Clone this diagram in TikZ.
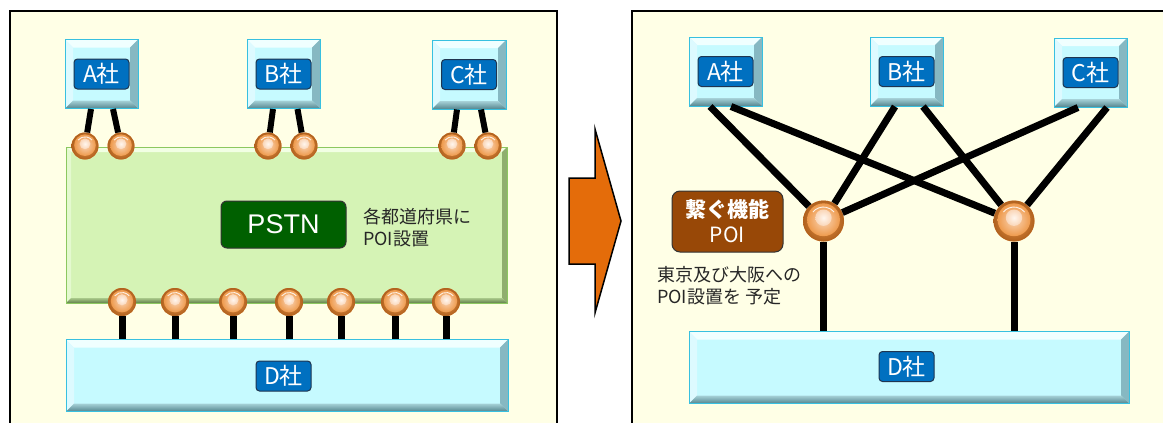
\documentclass[tikz,border=0pt]{standalone}
\usepackage{fontspec}
\setmainfont{Noto Sans CJK JP}
\newfontfamily\arialf{Liberation Sans}
\usetikzlibrary{calc}
\definecolor{panelbg}{HTML}{FFFFE6}
\definecolor{boxface}{HTML}{C6FAFF}
\definecolor{boxedge}{HTML}{38C0E0}
\definecolor{bevtop}{HTML}{F0FFFF}
\definecolor{bevleft}{HTML}{DDFAFF}
\definecolor{bevright}{HTML}{86B8C2}
\definecolor{bevbotA}{HTML}{A6D2D8}
\definecolor{bevbotB}{HTML}{55858E}
\definecolor{lblblue}{HTML}{0070C0}
\definecolor{lbledge}{HTML}{1F3550}
\definecolor{gface}{HTML}{D5F3B5}
\definecolor{gedge}{HTML}{8CC860}
\definecolor{gtop}{HTML}{F2FFE4}
\definecolor{gleft}{HTML}{E4F9CF}
\definecolor{gright}{HTML}{8FAE6E}
\definecolor{gbotA}{HTML}{A9C98A}
\definecolor{gbotB}{HTML}{62804A}
\definecolor{pstngreen}{HTML}{006000}
\definecolor{poibrown}{HTML}{984807}
\definecolor{arroworange}{HTML}{E46C0A}
\definecolor{ballhi}{HTML}{FFF6EE}
\definecolor{ballin}{HTML}{FAD6B8}
\definecolor{ballmid}{HTML}{EE9A4C}
\definecolor{balldark}{HTML}{B0611E}
\newcommand\bevelpic[6]{%
  \path (path picture bounding box.north west) coordinate (bNW)
        (path picture bounding box.north east) coordinate (bNE)
        (path picture bounding box.south west) coordinate (bSW)
        (path picture bounding box.south east) coordinate (bSE);
  \fill[#2] (bNW) -- (bNE) -- ([shift={(-#1,-#1)}]bNE) -- ([shift={(#1,-#1)}]bNW) -- cycle;
  \fill[#3] (bNW) -- (bSW) -- ([shift={(#1,#1)}]bSW) -- ([shift={(#1,-#1)}]bNW) -- cycle;
  \fill[#4] (bNE) -- (bSE) -- ([shift={(-#1,#1)}]bSE) -- ([shift={(-#1,-#1)}]bNE) -- cycle;
  \shade[top color=#5, bottom color=#6] (bSW) -- (bSE) -- ([shift={(-#1,#1)}]bSE) -- ([shift={(#1,#1)}]bSW) -- cycle;
}
\tikzset{
  cbox/.style={rectangle, draw=boxedge, line width=1pt, fill=boxface, inner sep=0pt,
    minimum width=#1, minimum height=69pt,
    path picture={\bevelpic{8pt}{bevtop}{bevleft}{bevright}{bevbotA}{bevbotB}}},
  dbox/.style={rectangle, draw=boxedge, line width=1pt, fill=boxface, inner sep=0pt,
    minimum width=#1, minimum height=72pt,
    path picture={\bevelpic{8pt}{bevtop}{bevleft}{bevright}{bevbotA}{bevbotB}}},
  gbox/.style={rectangle, draw=gedge, line width=1pt, fill=gface, inner sep=0pt,
    minimum width=441pt, minimum height=156pt,
    path picture={\bevelpic{5pt}{gtop}{gleft}{gright}{gbotA}{gbotB}}},
  lbl/.style={rectangle, rounded corners=3.5pt, draw=lbledge, line width=1pt, fill=lblblue,
    text=white, minimum width=55pt, minimum height=30pt, inner sep=0pt,
    font=\fontsize{23pt}{25pt}\selectfont},
  pstnbox/.style={rectangle, rounded corners=6pt, draw=black!80, line width=1pt, fill=pstngreen,
    text=white, minimum width=125pt, minimum height=47pt, inner sep=0pt,
    font=\arialf\fontsize{27pt}{30pt}\selectfont},
  poibox/.style={rectangle, rounded corners=8pt, draw=black!80, line width=1pt, fill=poibrown,
    text=white, minimum width=111pt, minimum height=61pt, inner sep=0pt, align=center,
    font=\fontsize{21pt}{25pt}\selectfont},
  note/.style={anchor=west, align=left, inner sep=0pt, text=black!85,
    font=\fontsize{18pt}{22pt}\selectfont},
  ball/.style={circle, inner sep=0pt, minimum size=#1, fill=ballmid, draw=none,
    path picture={
      \shade[inner color=ballmid, outer color=balldark]
        (path picture bounding box.center) circle ({0.5*#1});
      \shade[inner color=ballin, outer color=ballmid]
        ([yshift={0.03*#1}]path picture bounding box.center) circle ({0.4*#1});
      \shade[inner color=ballhi, outer color=ballin]
        ([yshift={0.08*#1}]path picture bounding box.center) circle ({0.2*#1});
      \draw[white, line width=0.9pt, opacity=0.85]
        ([shift={(140:{0.34*#1})}]path picture bounding box.center)
        arc[start angle=140, end angle=40, radius={0.34*#1}];}},
  wire/.style={line width=6pt, black},
  rwire/.style={line width=7pt, black},
  panel/.style={draw=black, line width=1.6pt, fill=panelbg}
}
\begin{document}
\begin{tikzpicture}[x=1pt, y=-1pt]
\useasboundingbox (0,0) rectangle (1163,423);
\clip (0,0) rectangle (1163,423);
\fill[white] (0,0) rectangle (1163,423);
% panels
\draw[panel] (10,11) rectangle (557,440);
\draw[panel] (632,11) rectangle (1180,440);
% arrow
\draw[fill=arroworange, line width=1.5pt, line join=miter]
  (569,178) -- (595,178) -- (595,129) -- (621,221) -- (595,313) -- (595,264) -- (569,264) -- cycle;

% ---------------- left panel ----------------
\node[gbox] (net) at (286.5,225) {};
\node[pstnbox] (pstn) at (283.5,224.5) {PSTN};
\node[note] (ltext) at (363,228) {各都道府県に\\POI設置};

\node[cbox=73pt] (LA) at (101.5,74) {};
\node[cbox=73pt] (LB) at (283.5,74) {};
\node[cbox=74pt] (LC) at (469,74.5) {};
\node[lbl] (LAl) at (LA) {A社};
\node[lbl] (LBl) at (LB) {B社};
\node[lbl] (LCl) at (LC) {C社};

\node[dbox=442pt] (LD) at (287,375.5) {};
\node[lbl] (LDl) at (283.5,376) {D社};

% top balls
\node[ball=27pt] (LA1) at (85,146) {};
\node[ball=27pt] (LA2) at (121,146) {};
\node[ball=27pt] (LB1) at (268,146) {};
\node[ball=27pt] (LB2) at (304,146) {};
\node[ball=27pt] (LC1) at (452,146) {};
\node[ball=27pt] (LC2) at (488,146) {};
\draw[wire] ([xshift=-10.5pt]LA.south) -- (LA1);
\draw[wire] ([xshift=11.5pt]LA.south) -- (LA2);
\draw[wire] ([xshift=-10.5pt]LB.south) -- (LB1);
\draw[wire] ([xshift=14pt]LB.south) -- (LB2);
\draw[wire] ([xshift=-12pt]LC.south) -- (LC1);
\draw[wire] ([xshift=12pt]LC.south) -- (LC2);

% bottom balls
\foreach \i/\x in {1/122,2/175,3/233,4/289,5/341,6/395,7/446}{
  \node[ball=28pt] (LP\i) at (\x,302) {};
  \draw[rwire] (LP\i.south) -- (LP\i.south |- LD.north);
}

% ---------------- right panel ----------------
\node[cbox=73pt] (RA) at (725.5,71.5) {};
\node[cbox=73pt] (RB) at (906.5,71.5) {};
\node[cbox=73pt] (RC) at (1090.5,72.5) {};
\node[lbl] (RAl) at (RA) {A社};
\node[lbl] (RBl) at (RB) {B社};
\node[lbl] (RCl) at (RC) {C社};

\node[dbox=440pt] (RD) at (909,367.5) {};
\node[lbl] (RDl) at (906.5,366.5) {D社};

\node[ball=41pt] (R1) at (823.5,221) {};
\node[ball=41pt] (R2) at (1014,221) {};

\draw[rwire] ([xshift=-15.5pt]RA.south) -- (R1);
\draw[rwire] ([xshift=5.5pt]RA.south) -- (R2);
\draw[rwire] ([xshift=-11.5pt]RB.south) -- (R1);
\draw[rwire] ([xshift=16.5pt]RB.south) -- (R2);
\draw[rwire] ([xshift=-12.5pt]RC.south) -- (R1);
\draw[rwire] ([xshift=16.5pt]RC.south) -- (R2);
\draw[rwire] (R1.south) -- (R1.south |- RD.north);
\draw[rwire] (R2.south) -- (R2.south |- RD.north);

\node[poibox] (poi) at (727.5,221.5) {{\bfseries 繋ぐ機能}\\POI};
\node[note] (rtext) at (657,285.5) {東京及び大阪への\\POI設置を 予定};
\end{tikzpicture}
\end{document}
